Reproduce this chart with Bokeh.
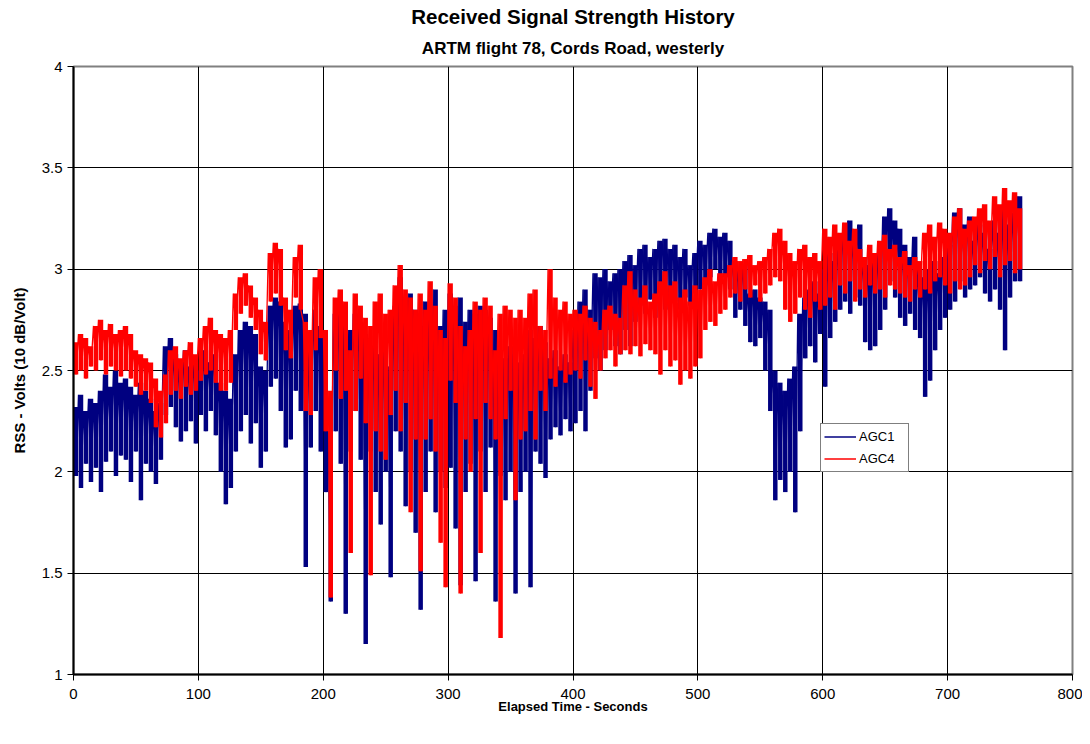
from bokeh.plotting import figure
from bokeh.models import (ColumnDataSource, FixedTicker, Title, Legend, LegendItem,
                          CustomJSTickFormatter, Range1d)
from bokeh.embed import file_html
from bokeh.resources import INLINE

# ---------------- data ----------------
# start time (s) of each 4-second window; each window holds the local
# high and the local low of the trace inside it
t_start = list(range(0, 757, 4))

agc1_hi = [
    2.32, 2.38, 2.30, 2.36, 2.34, 2.40, 2.48, 2.42, 2.50, 2.44,
    2.46, 2.42, 2.38, 2.44, 2.40, 2.36, 2.30, 2.34, 2.62, 2.66,
    2.58, 2.54, 2.60, 2.52, 2.56, 2.50, 2.60, 2.54, 2.58, 2.44,
    2.40, 2.36, 2.58, 2.70, 2.74, 2.72, 2.68, 2.52, 2.50, 2.82,
    2.86, 2.84, 2.74, 2.70, 2.82, 2.83, 2.78, 2.60, 2.80, 2.72,
    2.50, 2.20, 2.78, 2.80, 2.76, 2.70, 2.78, 2.74, 2.68, 2.62,
    2.62, 2.58, 2.64, 2.52, 2.82, 2.96, 2.86, 2.88, 2.80, 2.72,
    2.84, 2.76, 2.90, 2.72, 2.80, 2.88, 2.82, 2.86, 2.74, 2.80,
    2.78, 2.82, 2.80, 2.76, 2.70, 2.60, 2.56, 2.62, 2.58, 2.54,
    2.58, 2.70, 2.66, 2.72, 2.64, 2.56, 2.60, 2.52, 2.58, 2.54,
    2.70, 2.84, 2.90, 2.80, 2.98, 2.96, 3.00, 2.94, 2.98, 3.00,
    3.04, 3.07, 3.02, 3.10, 3.12, 3.06, 3.10, 3.14, 3.15, 3.10,
    3.12, 3.06, 3.10, 3.02, 3.08, 3.14, 3.12, 3.18, 3.20, 3.16,
    3.18, 3.14, 3.04, 3.00, 3.02, 2.88, 2.90, 2.86, 2.84, 2.80,
    2.50, 2.44, 2.40, 2.46, 2.52, 2.78, 2.86, 2.90, 2.94, 2.88,
    3.00, 3.08, 3.04, 3.12, 3.20, 3.24, 3.16, 3.22, 3.06, 3.02,
    3.04, 3.10, 3.26, 3.30, 3.24, 3.20, 3.12, 3.06, 3.16, 3.00,
    2.96, 3.00, 3.04, 2.98, 3.06, 3.12, 3.28, 3.30, 3.22, 3.26,
    3.14, 3.22, 3.18, 3.10, 3.24, 3.18, 3.30, 3.22, 3.28, 3.36,
]
agc1_lo = [
    1.98, 1.92, 2.04, 1.95, 2.02, 1.90, 2.05, 2.10, 1.98, 2.08,
    2.06, 1.95, 2.10, 1.86, 2.04, 2.00, 1.94, 2.06, 2.28, 2.32,
    2.22, 2.15, 2.20, 2.25, 2.14, 2.28, 2.20, 2.30, 2.18, 2.00,
    1.84, 1.92, 2.10, 2.20, 2.28, 2.14, 2.24, 2.02, 2.10, 2.42,
    2.46, 2.30, 2.12, 2.16, 2.40, 2.30, 1.53, 2.12, 2.30, 2.10,
    1.90, 1.36, 2.20, 2.04, 1.30, 2.10, 2.30, 2.06, 1.15, 2.10,
    1.90, 1.74, 2.00, 1.48, 2.20, 2.10, 1.83, 2.00, 1.70, 1.32,
    1.90, 2.10, 1.80, 2.00, 1.92, 2.02, 1.72, 1.44, 1.90, 2.04,
    1.46, 2.10, 1.90, 2.12, 1.36, 1.98, 1.86, 2.00, 1.40, 1.90,
    2.00, 1.43, 2.10, 2.04, 1.97, 2.16, 2.22, 2.18, 2.26, 2.20,
    2.24, 2.30, 2.20, 2.40, 2.56, 2.50, 2.60, 2.70, 2.62, 2.58,
    2.70, 2.62, 2.74, 2.82, 2.78, 2.85, 2.76, 2.88, 2.80, 2.84,
    2.84, 2.80, 2.86, 2.82, 2.88, 2.90, 2.92, 2.96, 3.00, 2.94,
    2.96, 2.90, 2.76, 2.80, 2.72, 2.64, 2.62, 2.66, 2.50, 2.30,
    1.86, 1.96, 1.90, 2.00, 1.80, 2.20, 2.56, 2.62, 2.54, 2.68,
    2.42, 2.66, 2.74, 2.80, 2.84, 2.78, 2.86, 2.82, 2.64, 2.60,
    2.62, 2.70, 2.80, 2.94, 2.86, 2.76, 2.72, 2.78, 2.70, 2.66,
    2.37, 2.45, 2.60, 2.70, 2.76, 2.80, 2.84, 2.94, 2.86, 2.90,
    2.92, 2.96, 2.88, 2.84, 2.90, 2.80, 2.60, 2.86, 2.94, 2.94,
]
agc4_hi = [
    2.64, 2.68, 2.66, 2.62, 2.72, 2.75, 2.70, 2.73, 2.68, 2.70,
    2.72, 2.68, 2.60, 2.58, 2.56, 2.54, 2.46, 2.40, 2.48, 2.60,
    2.62, 2.56, 2.60, 2.64, 2.58, 2.66, 2.72, 2.76, 2.70, 2.68,
    2.66, 2.70, 2.88, 2.96, 2.98, 2.92, 2.86, 2.80, 2.74, 3.08,
    3.13, 3.10, 2.86, 2.80, 3.06, 3.12, 2.74, 2.70, 2.96, 3.00,
    2.70, 2.40, 2.86, 2.90, 2.84, 2.60, 2.88, 2.82, 2.76, 2.72,
    2.84, 2.88, 2.78, 2.80, 2.92, 3.02, 2.90, 2.86, 2.80, 2.88,
    2.80, 2.94, 2.82, 2.70, 2.66, 2.93, 2.86, 2.72, 2.62, 2.70,
    2.84, 2.80, 2.86, 2.82, 2.60, 2.78, 2.82, 2.80, 2.76, 2.80,
    2.76, 2.88, 2.90, 2.72, 2.70, 3.00, 2.86, 2.80, 2.84, 2.78,
    2.80, 2.78, 2.82, 2.76, 2.74, 2.70, 2.80, 2.82, 2.78, 2.76,
    2.92, 2.99, 2.90, 2.86, 2.92, 2.84, 2.88, 2.94, 2.99, 2.92,
    2.94, 2.86, 2.90, 2.84, 2.92, 2.90, 2.96, 3.00, 2.94, 2.98,
    2.98, 3.02, 3.06, 3.04, 3.05, 3.07, 3.02, 3.04, 3.06, 3.10,
    3.18, 3.20, 3.14, 3.08, 3.04, 3.10, 3.12, 3.06, 3.08, 3.04,
    3.20, 3.16, 3.22, 3.18, 3.23, 3.14, 3.20, 3.10, 3.06, 3.12,
    3.08, 3.14, 3.17, 3.10, 3.12, 3.06, 3.09, 3.02, 3.06, 3.04,
    3.18, 3.22, 3.16, 3.23, 3.20, 3.18, 3.26, 3.30, 3.20, 3.24,
    3.26, 3.30, 3.32, 3.24, 3.36, 3.32, 3.40, 3.34, 3.38, 3.30,
]
agc4_lo = [
    2.48, 2.50, 2.46, 2.52, 2.50, 2.55, 2.48, 2.52, 2.50, 2.47,
    2.50, 2.46, 2.42, 2.38, 2.40, 2.34, 2.22, 2.17, 2.24, 2.38,
    2.40, 2.36, 2.42, 2.38, 2.40, 2.45, 2.48, 2.50, 2.44, 2.40,
    2.40, 2.44, 2.70, 2.78, 2.82, 2.76, 2.70, 2.58, 2.55, 2.84,
    2.88, 2.82, 2.60, 2.56, 2.86, 2.80, 2.30, 2.28, 2.60, 2.66,
    2.20, 1.38, 2.50, 2.36, 2.40, 1.60, 2.30, 2.46, 2.24, 1.49,
    2.20, 2.10, 2.06, 2.28, 2.40, 2.20, 2.34, 1.80, 2.16, 1.51,
    2.16, 2.26, 2.10, 1.65, 1.43, 2.45, 2.34, 1.40, 2.16, 2.00,
    2.26, 1.60, 2.34, 2.26, 2.16, 1.18, 2.26, 2.40, 1.86, 2.16,
    2.20, 2.30, 2.16, 2.40, 2.30, 2.46, 2.42, 2.50, 2.44, 2.48,
    2.50, 2.46, 2.55, 2.42, 2.36, 2.50, 2.56, 2.60, 2.52, 2.58,
    2.60, 2.58, 2.62, 2.57, 2.63, 2.60, 2.58, 2.48, 2.60, 2.52,
    2.55, 2.43, 2.50, 2.46, 2.52, 2.56, 2.70, 2.74, 2.72, 2.78,
    2.80, 2.86, 2.88, 2.84, 2.90, 2.86, 2.92, 2.84, 2.88, 2.92,
    2.96, 2.94, 2.80, 2.74, 2.78, 2.86, 2.80, 2.76, 2.84, 2.80,
    2.82, 2.86, 2.80, 2.92, 2.88, 2.94, 2.84, 2.90, 2.86, 2.92,
    2.88, 2.90, 2.86, 2.92, 2.90, 2.88, 2.86, 2.84, 2.90, 2.86,
    2.90, 2.88, 2.94, 2.96, 2.92, 2.88, 2.94, 2.90, 2.92, 2.96,
    3.02, 2.98, 3.04, 3.00, 3.06, 2.96, 3.02, 3.04, 2.98, 3.00,
]

x_ticks = [0, 100, 200, 300, 400, 500, 600, 700, 800]
y_ticks = [1, 1.5, 2, 2.5, 3, 3.5, 4]

title_text = "Received Signal Strength History"
subtitle_text = "ARTM flight 78, Cords Road, westerly"
x_label = "Elapsed Time - Seconds"
y_label = "RSS - Volts (10 dB/Volt)"
series_names = ["AGC1", "AGC4"]
series_colors = ["#000080", "#FF0000"]


def trace(hi, lo):
    xs, ys = [], []
    for t, h, l in zip(t_start, hi, lo):
        xs += [t, t + 2]
        ys += [h, l]
    return xs, ys


def columns(hi, lo):
    return ColumnDataSource(dict(x=[t + 2 for t in t_start], top=hi, bottom=lo))


x1, y1 = trace(agc1_hi, agc1_lo)
x4, y4 = trace(agc4_hi, agc4_lo)
src1 = ColumnDataSource(dict(x=x1, y=y1))
src4 = ColumnDataSource(dict(x=x4, y=y4))
col1 = columns(agc1_hi, agc1_lo)
col4 = columns(agc4_hi, agc4_lo)

FONT = "Liberation Sans"

p = figure(width=1082, height=736, output_backend="svg", toolbar_location=None,
           x_range=Range1d(0, 800), y_range=Range1d(1, 4),
           min_border_left=73, min_border_right=10, min_border_top=66,
           min_border_bottom=62, background_fill_color="white",
           border_fill_color="white")

xax = p.below[0]
yax = p.left[0]

p.outline_line_color = "#808080"
p.outline_line_width = 2

# subtitle nearest the frame, main title above it
p.add_layout(Title(text=subtitle_text, align="center", text_font=FONT,
                   text_font_size="17px", text_font_style="bold",
                   text_color="black", offset=0, standoff=18), "above")
p.add_layout(Title(text=title_text, align="center", text_font=FONT,
                   text_font_size="20.5px", text_font_style="bold",
                   text_color="black", offset=0, standoff=0), "above")

for ax in (xax, yax):
    ax.axis_line_color = "black"
    ax.axis_line_width = 2
    ax.major_tick_line_color = "black"
    ax.major_tick_line_width = 1
    ax.major_tick_out = 6
    ax.major_tick_in = 0
    ax.minor_tick_line_color = None
    ax.major_label_text_font = FONT
    ax.major_label_text_font_size = "15px"
    ax.major_label_text_color = "black"
    ax.axis_label_text_font = FONT
    ax.axis_label_text_font_style = "bold"
    ax.axis_label_text_color = "black"

xax.axis_label_text_font_size = "13px"
yax.axis_label_text_font_size = "15px"
xax.ticker = FixedTicker(ticks=x_ticks)
yax.ticker = FixedTicker(ticks=y_ticks)
yax.formatter = CustomJSTickFormatter(code="return tick.toString();")
xax.formatter = CustomJSTickFormatter(code="return tick.toString();")
xax.axis_label = x_label
yax.axis_label = y_label
xax.major_label_standoff = 8
yax.major_label_standoff = 5
xax.axis_label_standoff = -3
yax.axis_label_standoff = 11

p.xgrid.grid_line_color = "black"
p.ygrid.grid_line_color = "black"
p.xgrid.grid_line_width = 1
p.ygrid.grid_line_width = 1

p.vbar(x="x", width=3.6, top="top", bottom="bottom", source=col1,
       fill_color=series_colors[0], line_color=None)
r1 = p.line("x", "y", source=src1, line_color=series_colors[0], line_width=1.3)
p.vbar(x="x", width=3.6, top="top", bottom="bottom", source=col4,
       fill_color=series_colors[1], line_color=None)
r4 = p.line("x", "y", source=src4, line_color=series_colors[1], line_width=1.3)

legend = Legend(items=[LegendItem(label=series_names[0], renderers=[r1]),
                       LegendItem(label=series_names[1], renderers=[r4])],
                location=(747, 202), orientation="vertical",
                border_line_color="black", border_line_width=1,
                background_fill_color="white", background_fill_alpha=1,
                label_text_font=FONT, label_text_font_size="13px",
                label_text_color="black", glyph_width=32, glyph_height=19,
                label_height=19, label_width=46, label_standoff=3, spacing=3,
                padding=3, margin=0)
p.add_layout(legend, "center")

open("out.html", "w").write(file_html(p, INLINE))
